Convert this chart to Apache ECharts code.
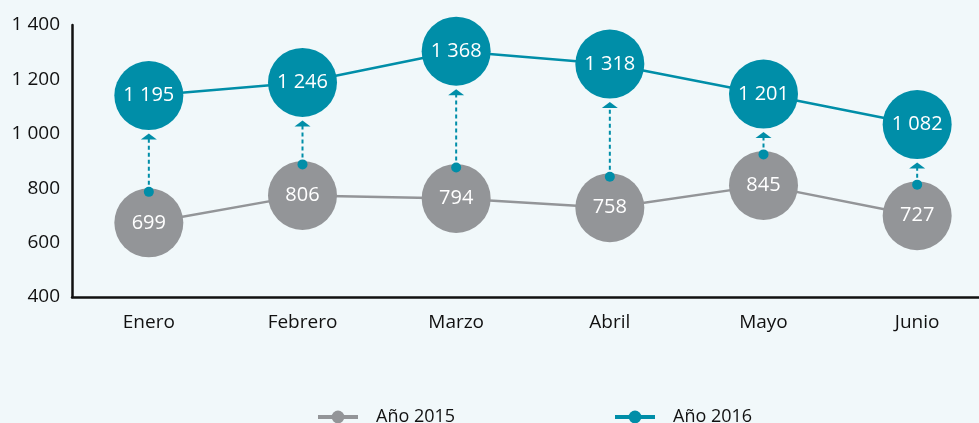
<!DOCTYPE html>
<html>
<head>
<meta charset="utf-8">
<style>
  html, body { margin: 0; padding: 0; background: #f1f8fa; }
  #chart { width: 979px; height: 423px; }
</style>
<script src="https://cdn.jsdelivr.net/npm/echarts@6/dist/echarts.min.js"></script>
</head>
<body>
<div id="chart"></div>
<script>
  var months = ['Enero', 'Febrero', 'Marzo', 'Abril', 'Mayo', 'Junio'];
  var year2015 = [699, 806, 794, 758, 845, 727];
  var year2016 = [1195, 1246, 1368, 1318, 1201, 1082];
  var yTicks = [400, 600, 800, 1000, 1200, 1400];

  var gray = '#939598';
  var teal = '#008ea8';
  var font = 'Open Sans';

  // 1 400 style thousands separator
  function fmt (v) {
    return String(v).replace(/\B(?=(\d{3})+(?!\d))/g, ' ');
  }

  var arrows = months.map(function (m, i) {
    return [i, year2015[i], year2016[i]];
  });

  var chart = echarts.init(document.getElementById('chart'));
  chart.setOption({
    animation: false,
    backgroundColor: '#f1f8fa',
    textStyle: { fontFamily: font },
    grid: {
      left: 72,
      right: -15,
      top: 25,
      bottom: 126,
      outerBoundsMode: 'none'
    },
    legend: [
      {
        data: ['Año 2015'],
        left: 311,
        top: 403,
        itemWidth: 40,
        itemHeight: 16,
        lineStyle: { width: 4 },
        textStyle: { fontSize: 18, color: '#111', padding: [0, 0, 0, 13] }
      },
      {
        data: ['Año 2016'],
        left: 608,
        top: 403,
        itemWidth: 40,
        itemHeight: 16,
        lineStyle: { width: 4 },
        textStyle: { fontSize: 18, color: '#111', padding: [0, 0, 0, 13] }
      }
    ],
    xAxis: {
      type: 'category',
      data: months,
      axisLine: { lineStyle: { color: '#111', width: 2.5 } },
      axisTick: { show: false },
      axisLabel: { fontSize: 19, color: '#111', margin: 16 },
      splitLine: { show: false }
    },
    yAxis: [
      {
        type: 'value',
        min: yTicks[0],
        max: yTicks[yTicks.length - 1],
        interval: 200,
        axisLine: { show: true, lineStyle: { color: '#111', width: 2.5 } },
        axisTick: { show: false },
        splitLine: { show: false },
        axisLabel: { fontSize: 19, color: '#111', margin: 12, formatter: fmt }
      },
      {
        // scale the marks sit on in the original graphic
        type: 'value',
        show: false,
        min: 410,
        max: 1470,
        splitLine: { show: false }
      }
    ],
    series: [
      {
        name: 'Año 2015',
        type: 'line',
        yAxisIndex: 1,
        z: 2,
        data: year2015,
        symbol: 'circle',
        symbolSize: 69,
        itemStyle: { color: gray },
        lineStyle: { color: gray, width: 2.5 },
        label: {
          show: true,
          position: 'inside',
          color: '#fff',
          fontSize: 20,
          formatter: function (p) { return fmt(p.value); }
        }
      },
      {
        type: 'custom',
        yAxisIndex: 1,
        z: 5,
        data: arrows,
        encode: { x: 0, y: [1, 2] },
        silent: true,
        renderItem: function (params, api) {
          var lo = api.coord([api.value(0), api.value(1)]);
          var hi = api.coord([api.value(0), api.value(2)]);
          var x = lo[0];
          var y0 = lo[1] - 31;
          var tip = hi[1] + 38;
          return {
            type: 'group',
            children: [
              {
                type: 'line',
                shape: { x1: x, y1: y0, x2: x, y2: tip + 5 },
                style: { stroke: teal, lineWidth: 2, lineDash: [4, 3] }
              },
              {
                type: 'circle',
                shape: { cx: x, cy: y0, r: 5 },
                style: { fill: teal }
              },
              {
                type: 'polygon',
                shape: { points: [[x - 8, tip + 6], [x + 8, tip + 6], [x, tip]] },
                style: { fill: teal }
              }
            ]
          };
        }
      },
      {
        name: 'Año 2016',
        type: 'line',
        yAxisIndex: 1,
        z: 6,
        data: year2016,
        symbol: 'circle',
        symbolSize: 69,
        itemStyle: { color: teal },
        lineStyle: { color: teal, width: 2.5 },
        label: {
          show: true,
          position: 'inside',
          color: '#fff',
          fontSize: 20,
          formatter: function (p) { return fmt(p.value); }
        }
      }
    ]
  });
</script>
</body>
</html>
